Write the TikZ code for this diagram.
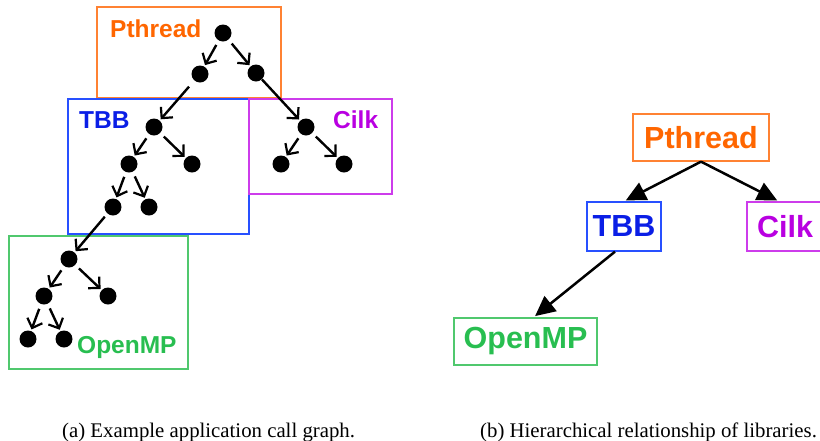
\documentclass[tikz,border=0pt]{standalone}
\usepackage{fontspec}
\setmainfont{Liberation Serif}
\newfontfamily\labfont{Liberation Sans}
\usetikzlibrary{arrows.meta}
\definecolor{cP}{RGB}{255,102,0}
\definecolor{cPb}{RGB}{255,130,50}
\definecolor{cT}{RGB}{10,30,230}
\definecolor{cTb}{RGB}{40,80,255}
\definecolor{cC}{RGB}{185,0,225}
\definecolor{cCb}{RGB}{205,60,235}
\definecolor{cO}{RGB}{40,190,80}
\definecolor{cOb}{RGB}{80,200,110}
\begin{document}
\begin{tikzpicture}[x=1pt,y=-1pt,
  dot/.style={circle,fill=black,inner sep=0pt,minimum size=17pt},
  lbox/.style={draw,line width=1.2pt,inner sep=0pt},
  call/.style={line width=2.4pt,-{Straight Barb[length=8pt,width=16pt,line width=2.2pt]},shorten <=5pt,shorten >=1.5pt},
  llab/.style={anchor=base west,inner sep=0pt,font=\labfont\bfseries\fontsize{24.5}{26}\selectfont},
  rbox/.style={draw,line width=1.3pt,inner sep=0pt,font=\labfont\bfseries\fontsize{30.5}{32}\selectfont},
  rel/.style={line width=2.5pt,-{Triangle[length=20pt,width=19pt]},shorten >=2pt},
  captext/.style={anchor=base west,inner sep=0pt,font=\fontsize{20.8}{24}\selectfont}
]
\useasboundingbox (0,0) rectangle (820,440);
% ---- left panel boxes
\node[lbox,draw=cPb,minimum width=184pt,minimum height=91pt] (bP) at (189,52.5) {};
\node[lbox,draw=cTb,minimum width=181pt,minimum height=135pt] (bT) at (158.5,166.5) {};
\node[lbox,draw=cCb,minimum width=143pt,minimum height=95pt] (bC) at (320.5,146.5) {};
\node[lbox,draw=cOb,minimum width=179pt,minimum height=133pt] (bO) at (98.5,302.5) {};
% labels
\node[llab,text=cP] (lP) at (110,37) {Pthread};
\node[llab,text=cT] (lT) at (79,128) {TBB};
\node[llab,text=cC] (lC) at (333,128) {Cilk};
\node[llab,text=cO] (lO) at (77,353) {OpenMP};
% dots
\node[dot] (p0) at (223,33) {};
\node[dot] (p1) at (200,74) {};
\node[dot] (p2) at (256,73) {};
\node[dot] (t0) at (154,127) {};
\node[dot] (t1) at (129,164) {};
\node[dot] (t2) at (192,164) {};
\node[dot] (t3) at (113,207) {};
\node[dot] (t4) at (149,207) {};
\node[dot] (c0) at (306,127) {};
\node[dot] (c1) at (281,164) {};
\node[dot] (c2) at (344,164) {};
\node[dot] (o0) at (69,259) {};
\node[dot] (o1) at (44,296) {};
\node[dot] (o2) at (108,296) {};
\node[dot] (o3) at (28,339) {};
\node[dot] (o4) at (64,339) {};
% calls
\draw[call] (p0) -- (p1);
\draw[call] (p0) -- (p2);
\draw[call,shorten <=8pt] (p1) -- (t0);
\draw[call,shorten <=0pt] (p2) -- (c0);
\draw[call] (t0) -- (t1);
\draw[call] (t0) -- (t2);
\draw[call] (t1) -- (t3);
\draw[call] (t1) -- (t4);
\draw[call,shorten <=4pt] (t3) -- (o0);
\draw[call] (c0) -- (c1);
\draw[call] (c0) -- (c2);
\draw[call] (o0) -- (o1);
\draw[call] (o0) -- (o2);
\draw[call] (o1) -- (o3);
\draw[call] (o1) -- (o4);
% ---- right panel
\node[rbox,draw=cPb,text=cP,minimum width=136pt,minimum height=47pt] (rP) at (701,137.5) {Pthread};
\node[rbox,draw=cTb,text=cT,minimum width=74pt,minimum height=49pt] (rT) at (624,226.5) {TBB};
\node[rbox,draw=cCb,text=cC,minimum width=76pt,minimum height=49pt] (rC) at (785,226.5) {Cilk};
\node[rbox,draw=cOb,text=cO,minimum width=143pt,minimum height=47pt] (rO) at (525.5,341.5) {OpenMP};
\draw[rel] (rP.south) -- (rT.north);
\draw[rel] (rP.south) -- ([xshift=-6pt]rC.north);
\draw[rel] ([xshift=-9pt]rT.south) -- ([xshift=8pt]rO.north);
% captions
\node[captext] (capa) at (62,437) {(a) Example application call graph.};
\node[captext] (capb) at (480,437) {(b) Hierarchical relationship of libraries.};
\end{tikzpicture}
\end{document}
